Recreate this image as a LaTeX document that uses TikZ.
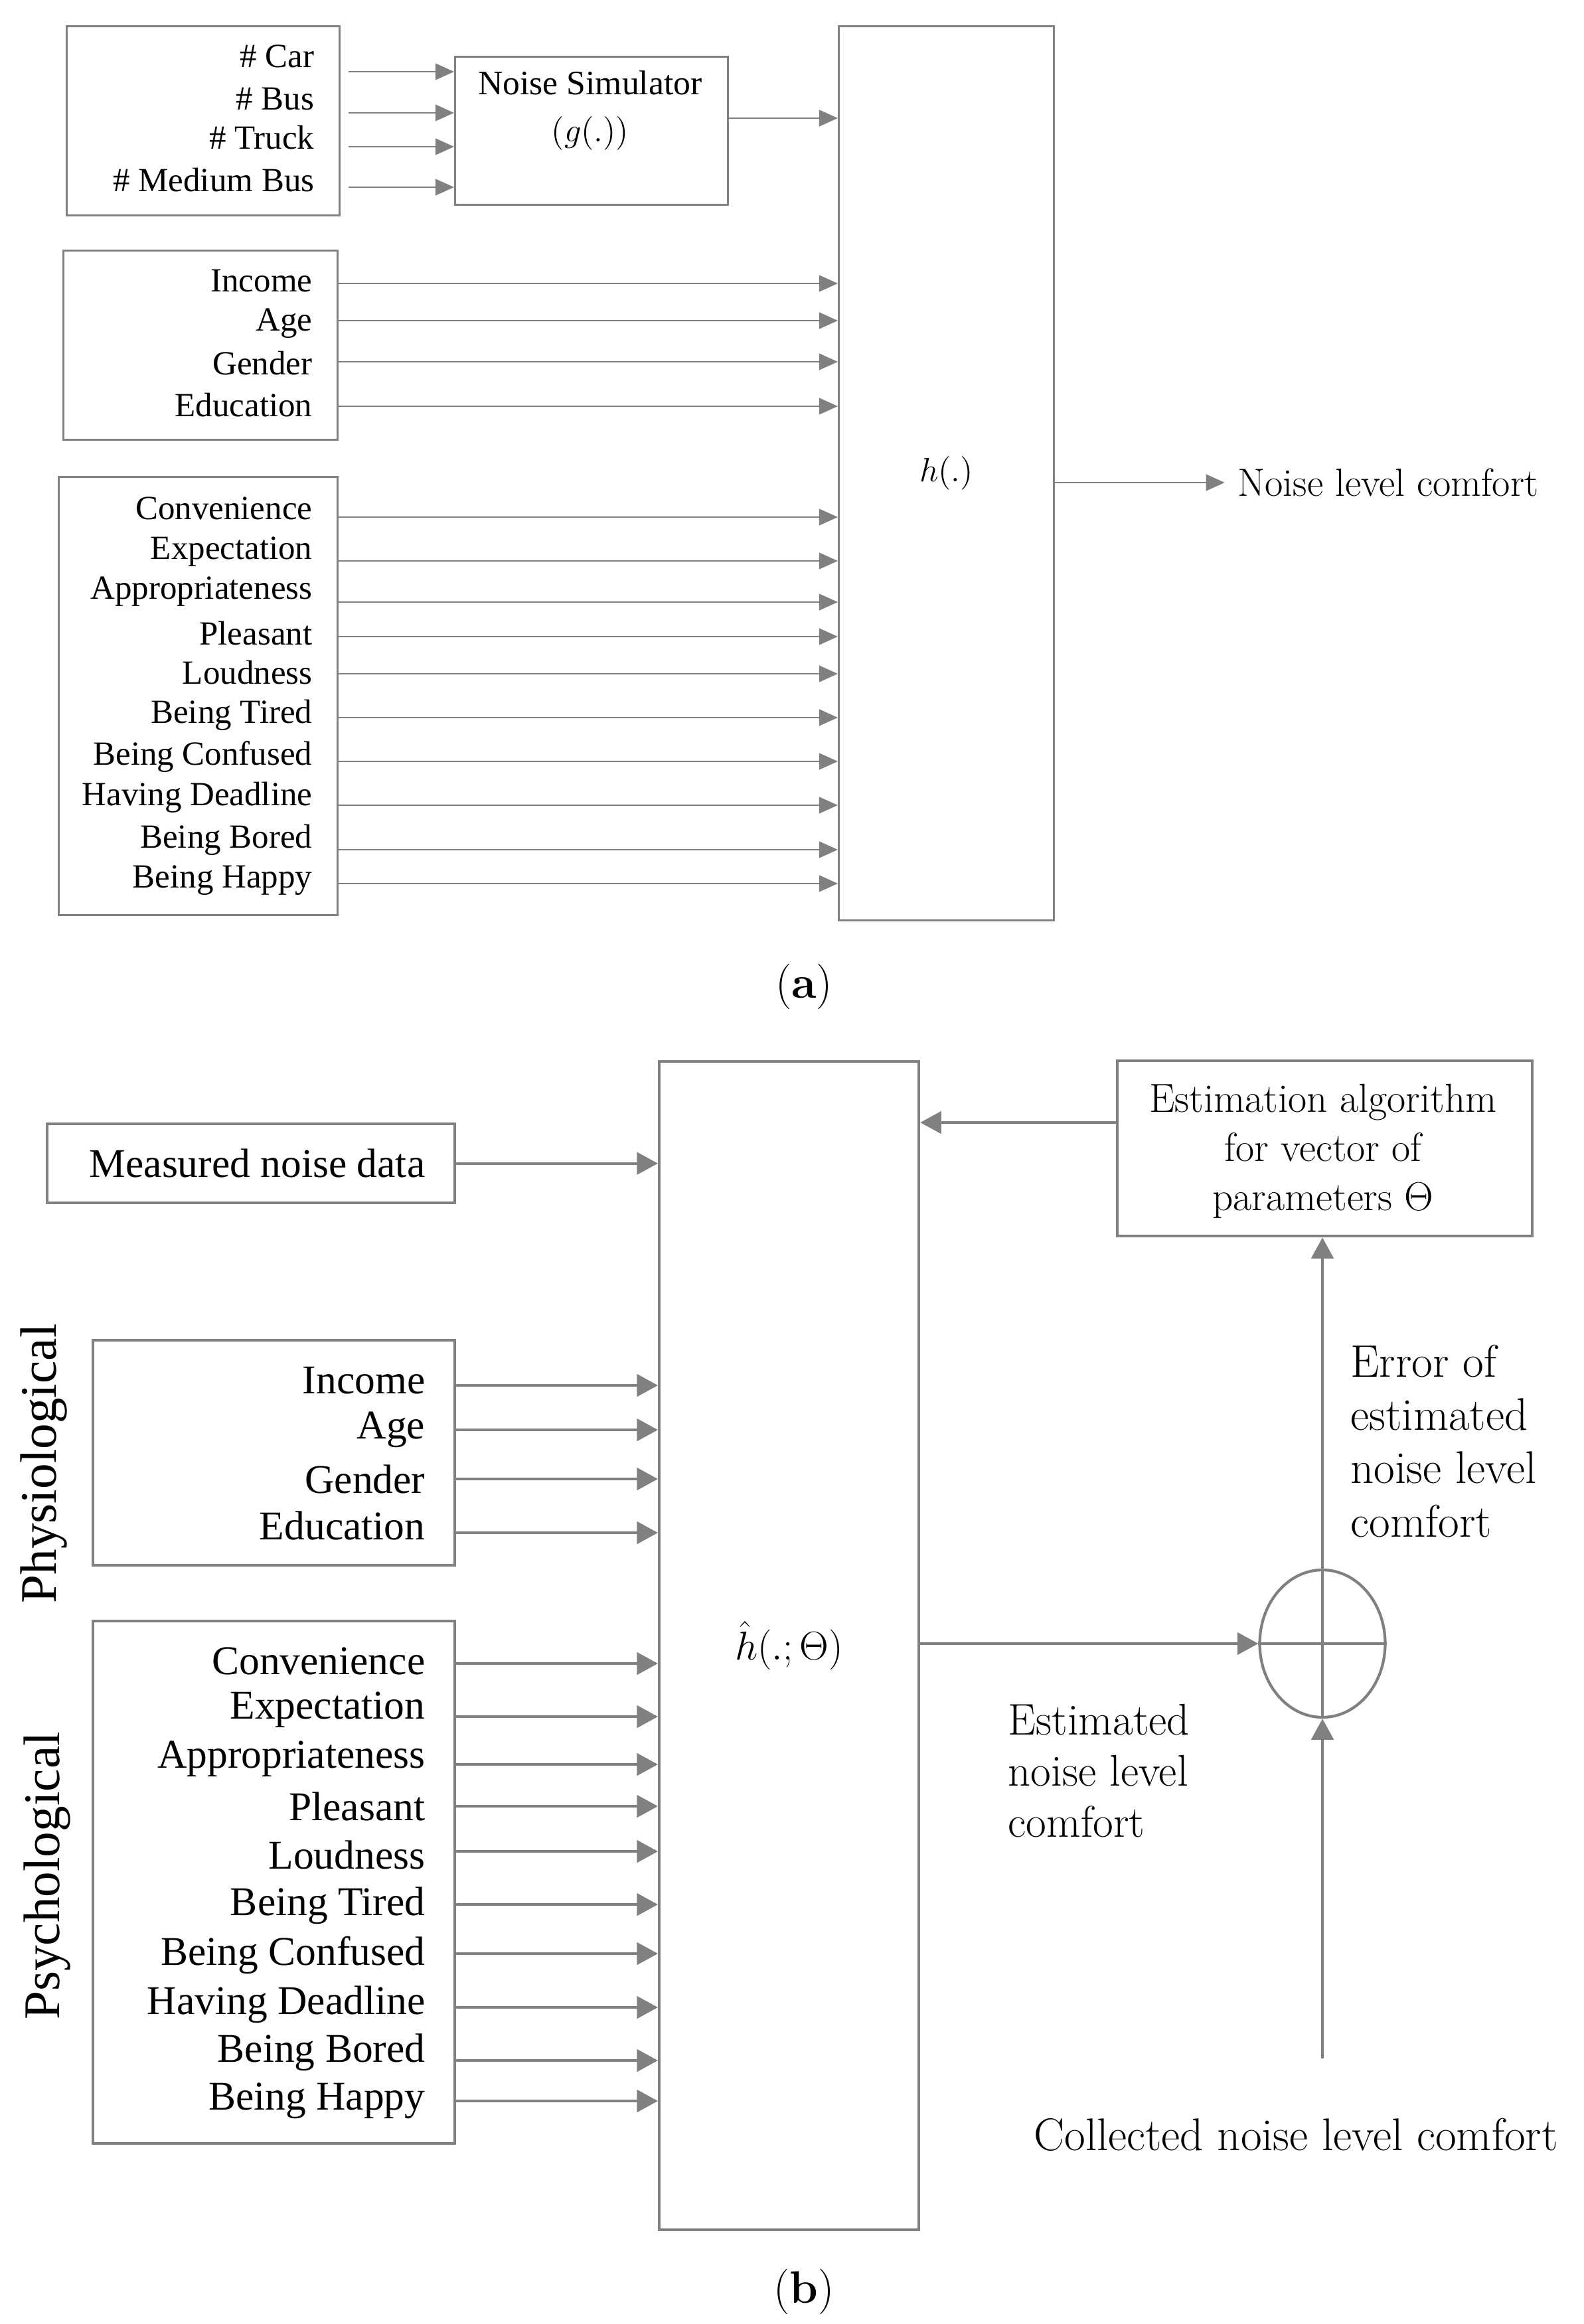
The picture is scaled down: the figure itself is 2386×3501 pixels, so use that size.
\documentclass[tikz,border=0pt]{standalone}
\usepackage{fontspec}
\usepackage{amsmath}
\usetikzlibrary{positioning, arrows.meta, shapes.geometric}
\newfontfamily\tnr{Liberation Serif}
\definecolor{wire}{RGB}{128,128,128}

\begin{document}
\begin{tikzpicture}[
        x=0.1mm, y=-0.1mm,
        blocka/.style={
            rectangle,
            draw=wire,
            line width=0.8pt,
            anchor=north west,
            inner sep=0pt
        },
        blockb/.style={
            blocka,
            line width=1.2pt
        },
        feata/.style={anchor=east, inner sep=0pt, font=\tnr\fontsize{14.5}{17}\selectfont},
        featb/.style={anchor=east, inner sep=0pt, font=\tnr\fontsize{17.5}{21}\selectfont},
        side/.style={rotate=90, inner sep=0pt, font=\tnr\fontsize{22}{26}\selectfont},
        note/.style={inner sep=0pt, align=left, font=\fontsize{19.6}{22.8}\selectfont},
        arrowa/.style={
            -{Triangle[length=8pt, width=7pt]},
            draw=wire,
            line width=0.8pt
        },
        arrowb/.style={
            -{Triangle[length=9pt, width=9.5pt]},
            draw=wire,
            line width=1.2pt
        }
    ]
    \useasboundingbox (0,0) rectangle (2386,3501);

    % (a) blocks
    \node[blocka, minimum width=41.1mm, minimum height=28.5mm] (veh) at (99,38) {};
    \node[blocka, minimum width=41.1mm, minimum height=22.3mm] (sim) at (684,84) {};
    \node[blocka, minimum width=32.4mm, minimum height=134.7mm] (h) at (1262,38) {};
    \node[blocka, minimum width=41.3mm, minimum height=28.5mm] (soc) at (94,376) {};
    \node[blocka, minimum width=42mm, minimum height=66mm] (psya) at (87,717) {};

    \node[align=center, inner sep=0pt, font=\tnr\fontsize{14.7}{20.2}\selectfont] (simtxt) at (889,166) {Noise Simulator\\$(g(.))$};
    \node[inner sep=0pt, font=\fontsize{15.5}{18}\selectfont] (hlbl) at (h.center) {$h(.)$};

    % (a) inputs
    \foreach \t/\ly/\ay [count=\i] in {{\# Car}/85/108, {\# Bus}/149/170, {\# Truck}/207/221, {\# Medium Bus}/271/282}{
        \node[feata] (veh\i) at (474,\ly) {\t};
        \coordinate (vehsrc\i) at (525,\ay);
        \draw[arrowa] (vehsrc\i) -- (sim.west |- vehsrc\i);
    }
    \foreach \t/\ly/\ay [count=\i] in {Income/423/427, Age/487/483, Gender/547/545, Education/610/612}{
        \node[feata] (soc\i) at (471,\ly) {\t};
        \coordinate (socy\i) at (0,\ay);
        \draw[arrowa] (soc.east |- socy\i) -- (h.west |- socy\i);
    }
    \foreach \t/\ly/\ay [count=\i] in {Convenience/766/779, Expectation/831/845, Appropriateness/891/907, Pleasant/954/959, Loudness/1013/1015, Being Tired/1077/1081, Being Confused/1140/1147, Having Deadline/1201/1213, Being Bored/1265/1280, Being Happy/1326/1331}{
        \node[feata] (psya\i) at (471,\ly) {\t};
        \coordinate (psyay\i) at (0,\ay);
        \draw[arrowa] (psya.east |- psyay\i) -- (h.west |- psyay\i);
    }

    % (a) output
    \coordinate (simy) at (0,178);
    \draw[arrowa] (sim.east |- simy) -- (h.west |- simy);
    \coordinate (hout) at (h.east |- 0,727);
    \node[inner sep=1.9mm, anchor=west, font=\fontsize{16.9}{19}\selectfont, right=2.56cm of hout] (nlc) {Noise level comfort};
    \draw[arrowa] (hout) -- (nlc.west);

    \node[font=\fontsize{19.5}{22}\selectfont] (capa) at (1211,1486) {(\textbf{a})};

    % (b) blocks
    \node[blockb, minimum width=61.4mm, minimum height=11.9mm] (meas) at (69,1691) {};
    \node[blockb, minimum width=39.1mm, minimum height=176mm] (hh) at (991,1597) {};
    \node[blockb, minimum width=54.5mm, minimum height=33.9mm] (phys) at (138,2017) {};
    \node[blockb, minimum width=54.5mm, minimum height=78.7mm] (psyb) at (138,2440) {};
    \node[blockb, minimum width=62.5mm, minimum height=26.4mm] (est) at (1681,1596) {};
    \node[ellipse, draw=wire, line width=1.2pt, minimum width=18.9mm, minimum height=22.2mm, inner sep=0pt] (sum) at (1992,2476) {};

    \node[featb] (measlbl) at (641,1752) {Measured noise data};
    \node[inner sep=0pt, font=\fontsize{17.5}{20}\selectfont] (hhlbl) at (hh.center) {$\hat{h}(.;\Theta)$};
    \node[align=center, inner sep=0pt, font=\fontsize{17.4}{21}\selectfont] (esttxt) at (1993,1734) {Estimation algorithm\\for vector of\\parameters $\Theta$};
    \node[side] (physlbl) at (66,2205) {Physiological};
    \node[side] (psylbl) at (71,2826) {Psychological};

    % (b) inputs
    \draw[arrowb] (meas.east) -- (hh.west |- meas.east);
    \foreach \t/\ly/\ay [count=\i] in {Income/2080/2087, Age/2154/2154, Gender/2228/2228, Education/2298/2309}{
        \node[featb] (phys\i) at (641,\ly) {\t};
        \coordinate (physy\i) at (0,\ay);
        \draw[arrowb] (phys.east |- physy\i) -- (hh.west |- physy\i);
    }
    \foreach \t/\ly/\ay [count=\i] in {Convenience/2502/2506, Expectation/2576/2586, Appropriateness/2650/2658, Pleasant/2721/2721, Loudness/2794/2789, Being Tired/2871/2869, Being Confused/2945/2943, Having Deadline/3020/3024, Being Bored/3092/3104, Being Happy/3165/3165}{
        \node[featb] (psyb\i) at (641,\ly) {\t};
        \coordinate (psyby\i) at (0,\ay);
        \draw[arrowb] (psyb.east |- psyby\i) -- (hh.west |- psyby\i);
    }

    % (b) feedback loop
    \coordinate (esty) at (0,1691);
    \draw[arrowb] (est.west |- esty) -- (hh.east |- esty);
    \draw[wire, line width=1.2pt] (sum.west) -- (sum.east);
    \draw[wire, line width=1.2pt] (sum.south) -- (sum.north);
    \draw[arrowb] (hh.east |- sum) -- (sum.west);
    \draw[arrowb] (sum.north) -- (sum.north |- est.south);
    \coordinate (collsrc) at (1992,3101);
    \draw[arrowb] (collsrc) -- (sum.south);

    \node[note] (coll) at (1952,3216) {Collected noise level comfort};
    \node[note, anchor=west] (err) at (2034,2171) {Error of\\estimated\\noise level\\comfort};
    \node[note, anchor=west, font=\fontsize{19}{21.9}\selectfont] (estc) at (1518,2668) {Estimated\\noise level\\comfort};

    \node[font=\fontsize{19.5}{22}\selectfont] (capb) at (1211,3452) {(\textbf{b})};

\end{tikzpicture}
\end{document}
